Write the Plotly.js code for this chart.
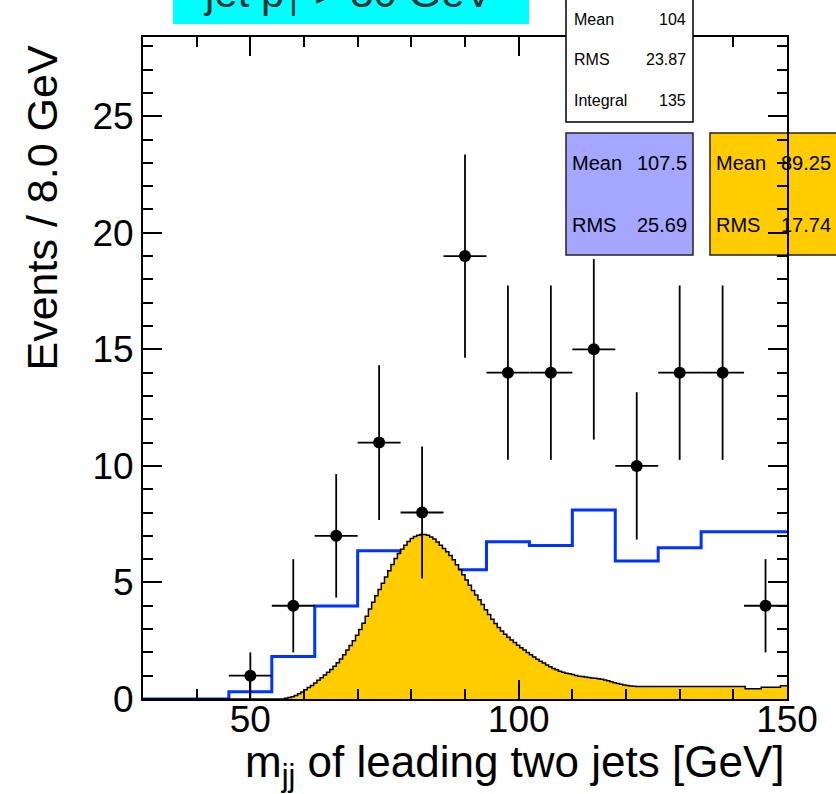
<!DOCTYPE html>
<html><head><meta charset="utf-8">
<script src="https://cdn.plot.ly/plotly-3.0.1.min.js"></script>
<style>html,body{margin:0;padding:0;background:#fff}</style>
</head><body><div id="chart" style="width:836px;height:794px"></div>
<script>
// ---- data ----
const dataCenters = [50, 58, 66, 74, 82, 90, 98, 106, 114, 122, 130, 138, 146];
const dataEvents  = [1, 4, 7, 11, 8, 19, 14, 14, 15, 10, 14, 14, 4];
const dataErrors  = [1, 2, 2.65, 3.32, 2.83, 4.36, 3.74, 3.74, 3.87, 3.16, 3.74, 3.74, 2];
const dataHalfBin = 4;

const bkgEdges  = [30, 38, 46, 54, 62, 70, 78, 86, 94, 102, 110, 118, 126, 134, 142, 150];
const bkgValues = [0, 0, 0.31, 1.82, 3.99, 6.36, 6.3, 5.54, 6.75, 6.58, 8.11, 5.92, 6.49, 7.17, 7.17];

const sigStart = 30, sigBinWidth = 0.6;
const sigValues = [
  0,0,0,0,0,0,0,0,0,0, 0,0,0,0,0,0,0,0,0,0, 0,0,0,0,0,0,0,0,0,0, 0,0,0,0,0,0,0,0,0,0, 0,0,0,0,
  0.03,0.06,0.1,0.15,0.22,0.3,0.4,0.49,0.58,0.69,
  0.8,0.91,1.03,1.15,1.27,1.4,1.56,1.72,1.9,2.1,
  2.3,2.5,2.74,2.98,3.25,3.55,3.86,4.15,4.43,4.7,
  4.97,5.23,5.5,5.77,6.03,6.24,6.42,6.6,6.76,6.89,
  6.97,7.03,7.06,7.06,7.02,6.95,6.86,6.74,6.6,6.46,
  6.32,6.16,5.97,5.76,5.54,5.33,5.1,4.88,4.66,4.46,
  4.26,4.05,3.83,3.62,3.42,3.24,3.07,2.92,2.78,2.65,
  2.53,2.42,2.31,2.2,2.1,2.0,1.9,1.8,1.71,1.62,
  1.54,1.46,1.38,1.31,1.25,1.19,1.15,1.11,1.08,1.05,
  1.01,0.98,0.96,0.94,0.92,0.9,0.89,0.87,0.85,0.82,
  0.78,0.74,0.7,0.66,0.63,0.6,0.58,0.56,0.55,
  0.54,0.54,0.54,0.54,0.54,0.54,0.54,0.54,0.54,0.54,
  0.54,0.54,0.54,0.54,0.54,0.54,0.54,0.54,0.54,0.54,
  0.54,0.54,0.54,0.54,0.54,0.54,0.54,0.54,0.54,0.54,
  0.54,0.54,0.54,0.54,
  0.44,0.44,0.44,0.44,0.44,
  0.5,0.5,0.5,0.5,0.5,0.5,
  0.57,0.57
];

const xTickVals = [50, 100, 150];
const yTickVals = [0, 5, 10, 15, 20, 25];

const statWhite  = [["Mean", "104"], ["RMS", "23.87"], ["Integral", "135"]];
const statBlue   = [["Mean", "107.5"], ["RMS", "25.69"]];
const statYellow = [["Mean", "89.25"], ["RMS", "17.74"]];
const titleText = "jet p<sub>T</sub> &gt; 30 GeV";
const xTitle = "m<sub>jj</sub> of leading two jets [GeV]";
const yTitle = "Events / 8.0 GeV";

// ---- build traces ----
const bkgX = bkgEdges.slice();
const bkgY = bkgValues.concat([bkgValues[bkgValues.length - 1]]);
const sigX = [], sigY = [];
for (let i = 0; i < sigValues.length; i++) { sigX.push(sigStart + i * sigBinWidth); sigY.push(sigValues[i]); }
sigX.push(sigStart + sigValues.length * sigBinWidth); sigY.push(sigValues[sigValues.length - 1]);

const traces = [
  { x: bkgX, y: bkgY, type: 'scatter', mode: 'lines', line: { shape: 'hv', color: '#0033ff', width: 3 }, hoverinfo: 'skip' },
  { x: sigX, y: sigY, type: 'scatter', mode: 'lines', line: { shape: 'hv', color: '#000', width: 1.5 },
    fill: 'tozeroy', fillcolor: '#ffcc00', hoverinfo: 'skip' },
  { x: dataCenters, y: dataEvents, type: 'scatter', mode: 'markers',
    marker: { color: '#000', size: 12 },
    error_x: { type: 'constant', value: dataHalfBin, width: 0, thickness: 1.8, color: '#000' },
    error_y: { type: 'data', array: dataErrors, width: 0, thickness: 1.8, color: '#000' } }
];

// pixel -> paper helpers for decorations
const L = 143, R = 787, T = 37, B = 699;
const px = x => (x - L) / (R - L);
const py = y => (B - y) / (B - T);

const FONT = 'Liberation Sans, Arial, Helvetica, sans-serif';
const shapes = [
  { type: 'rect', xref: 'paper', yref: 'paper', x0: px(173), x1: px(529), y0: py(24), y1: py(-5),
    fillcolor: '#00ffff', line: { width: 0 }, layer: 'above' },
  { type: 'rect', xref: 'paper', yref: 'paper', x0: px(566), x1: px(693), y0: py(122), y1: py(-3),
    fillcolor: '#ffffff', line: { color: '#000', width: 1.5 }, layer: 'above' },
  { type: 'rect', xref: 'paper', yref: 'paper', x0: px(566), x1: px(693), y0: py(255), y1: py(133),
    fillcolor: '#a5a6ff', line: { color: '#222', width: 1.5 }, layer: 'above' },
  { type: 'rect', xref: 'paper', yref: 'paper', x0: px(710), x1: px(845), y0: py(255), y1: py(133),
    fillcolor: '#ffcc00', line: { color: '#222', width: 1.5 }, layer: 'below' }
];

const annotations = [];
function addStat(rows, xl, xr, ys, size) {
  rows.forEach((r, i) => {
    annotations.push({ xref: 'paper', yref: 'paper', x: px(xl), y: py(ys[i]), xanchor: 'left', yanchor: 'middle',
      text: r[0], showarrow: false, font: { family: FONT, size: size, color: '#000' } });
    annotations.push({ xref: 'paper', yref: 'paper', x: px(xr), y: py(ys[i]), xanchor: 'right', yanchor: 'middle',
      text: r[1], showarrow: false, font: { family: FONT, size: size, color: '#000' } });
  });
}
addStat(statWhite, 572, 688, [20, 60, 100], 16);
addStat(statBlue, 570, 689, [163, 225], 20);
addStat(statYellow, 714, 833, [163, 225], 20);

annotations.push({ xref: 'paper', yref: 'paper', x: px(348), y: py(24), xanchor: 'center', yanchor: 'bottom',
  text: titleText, showarrow: false, font: { family: FONT, size: 42, color: '#333' } });
annotations.push({ xref: 'paper', yref: 'paper', x: 1, y: py(765), xanchor: 'right', yanchor: 'middle',
  text: xTitle, showarrow: false, font: { family: FONT, size: 44, color: '#000' } });
annotations.push({ xref: 'paper', yref: 'paper', x: px(42), y: py(44), xanchor: 'center', yanchor: 'top',
  textangle: -90, text: yTitle, showarrow: false, font: { family: FONT, size: 43, color: '#000' } });

const axisCommon = {
  showgrid: false, zeroline: false, showline: true, linecolor: '#000', linewidth: 2,
  mirror: 'allticks', ticks: 'inside', tickcolor: '#000', tickwidth: 2, ticklen: 19,
  tickfont: { family: FONT, size: 37, color: '#000' }
};

const layout = {
  width: 836, height: 794,
  margin: { l: L, r: 836 - R, t: T, b: 794 - B },
  paper_bgcolor: '#fff', plot_bgcolor: 'rgba(0,0,0,0)',
  showlegend: false,
  xaxis: Object.assign({}, axisCommon, { range: [30, 150], tickmode: 'array', tickvals: xTickVals,
    ticklabelstandoff: -13,
    minor: { dtick: 10, tick0: 0, ticks: 'inside', ticklen: 10, tickwidth: 2, tickcolor: '#000' } }),
  yaxis: Object.assign({}, axisCommon, { range: [0, 28.4], tickmode: 'array', tickvals: yTickVals,
    minor: { dtick: 1, tick0: 0, ticks: 'inside', ticklen: 10, tickwidth: 2, tickcolor: '#000' } }),
  shapes: shapes,
  annotations: annotations
};

Plotly.newPlot('chart', traces, layout, { staticPlot: true, displayModeBar: false });
</script></body></html>
